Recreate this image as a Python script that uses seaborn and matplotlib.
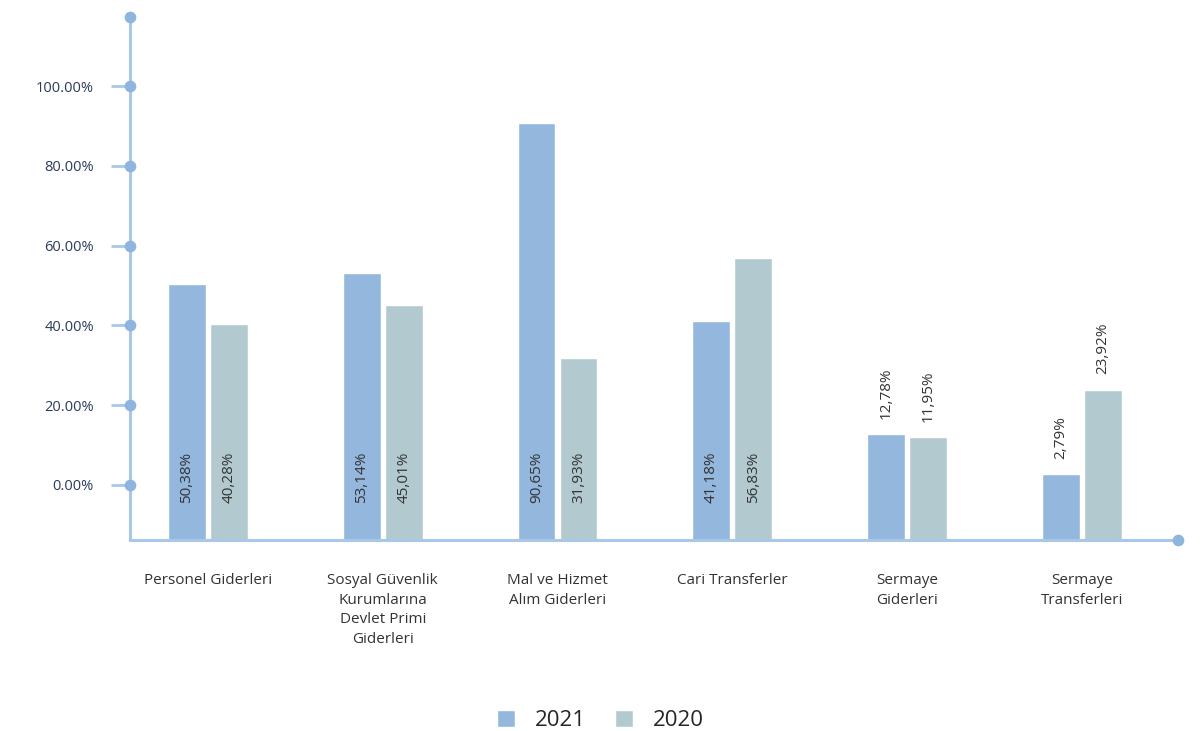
import numpy as np
import pandas as pd
import matplotlib.pyplot as plt
import seaborn as sns

# Chart data
categories = ['Personel Giderleri',
              'Sosyal Güvenlik Kurumlarına Devlet Primi Giderleri',
              'Mal ve Hizmet Alım Giderleri',
              'Cari Transferler',
              'Sermaye Giderleri',
              'Sermaye Transferleri']
tick_labels = ['Personel Giderleri',
               'Sosyal Güvenlik\nKurumlarına\nDevlet Primi\nGiderleri',
               'Mal ve Hizmet\nAlım Giderleri',
               'Cari Transferler',
               'Sermaye\nGiderleri',
               'Sermaye\nTransferleri']
years = ['2021', '2020']
values_2021 = [50.38, 53.14, 90.65, 41.18, 12.78, 2.79]
values_2020 = [40.28, 45.01, 31.93, 56.83, 11.95, 23.92]
y_ticks = [0, 20, 40, 60, 80, 100]

df = pd.DataFrame({
    'kalem': categories * 2,
    'yil': [years[0]] * len(categories) + [years[1]] * len(categories),
    'oran': values_2021 + values_2020,
})

# Styling
sns.set_style('white')
plt.rcParams['font.family'] = ['Open Sans', 'DejaVu Sans']
axis_color = '#a9c8e8'
dot_color = '#8fb5de'
palette = {'2021': '#93b7dd', '2020': '#b2cacf'}
ymin, ymax = -13.8, 117.3

fig = plt.figure(figsize=(12.01, 7.31), dpi=100)
ax = fig.add_axes([130 / 1201, 1 - 540 / 731, 1048 / 1201, 523 / 731])

sns.barplot(data=df, x='kalem', y='oran', hue='yil', hue_order=years,
            palette=palette, width=0.48, gap=0.1, saturation=1,
            order=categories, ax=ax)

# bars start at the bottom of the axis, not at zero
for cont in ax.containers:
    for p in cont:
        h = p.get_height()
        p.set_y(ymin)
        p.set_height(h - ymin)

ax.set_ylim(ymin, ymax)
ax.set_xlim(-0.446, 5.55)

# Value labels: inside for tall bars, above for short ones
for cont, vals in zip(ax.containers, [values_2021, values_2020]):
    for p, v in zip(cont, vals):
        xc = p.get_x() + p.get_width() / 2
        txt = f'{v:.2f}%'.replace('.', ',')
        if v >= 30:
            ax.text(xc, -4.5, txt, rotation=90, ha='center', va='bottom',
                    fontsize=11, color='#333333')
        else:
            ax.annotate(txt, (xc, v), xytext=(0, 11), textcoords='offset points',
                        rotation=90, ha='center', va='bottom',
                        fontsize=11, color='#333333')

# Axes look
for side in ['top', 'right']:
    ax.spines[side].set_visible(False)
for side in ['left', 'bottom']:
    ax.spines[side].set_color(axis_color)
    ax.spines[side].set_linewidth(2.2)

ax.set_yticks(y_ticks)
ax.set_yticklabels([f'{t:.2f}%' for t in y_ticks])
ax.tick_params(axis='y', left=True, length=14, width=2, color=axis_color,
               pad=12, labelsize=10.5, labelcolor='#2b3a5a')
ax.set_xticks(range(len(categories)))
ax.set_xticklabels(tick_labels, fontsize=11, color='#333333')
ax.tick_params(axis='x', length=0, pad=24)
for lab in ax.get_xticklabels():
    lab.set_linespacing(1.4)
    lab.set_verticalalignment('top')

ax.set_xlabel('')
ax.set_ylabel('')

# dots on the axis
ax.scatter([0] * (len(y_ticks) + 1), y_ticks + [ymax], s=55, color=dot_color,
           transform=ax.get_yaxis_transform(), clip_on=False, zorder=5)
ax.scatter([1], [0], s=55, color=dot_color, transform=ax.transAxes,
           clip_on=False, zorder=5)

# Legend
handles, labels = ax.get_legend_handles_labels()
ax.legend(handles, labels, loc='lower center', bbox_to_anchor=(0.5, -0.027),
          bbox_transform=fig.transFigure, ncol=2, frameon=False,
          handlelength=0.8, handleheight=0.8, fontsize=16, columnspacing=1.3,
          handletextpad=0.9)

fig.savefig('out.png', dpi=100)
